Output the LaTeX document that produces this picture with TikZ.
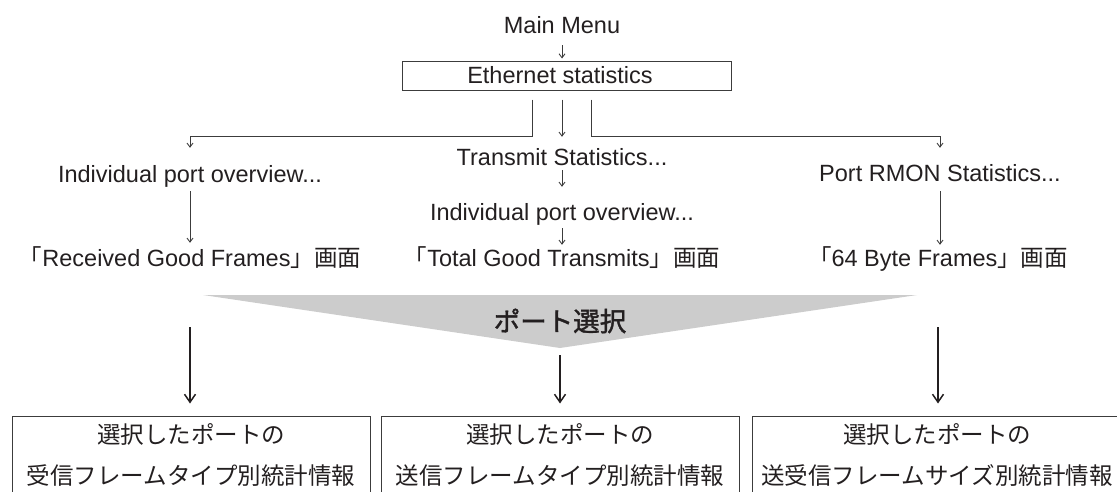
\documentclass[tikz,border=0pt]{standalone}
\usepackage{fontspec}
\setmainfont{Liberation Sans}
\newfontfamily\cjk{Noto Sans CJK JP}
\newfontfamily\cjkb[FakeBold=1.5]{Noto Sans CJK JP}
\usetikzlibrary{arrows.meta,calc}
\definecolor{ink}{RGB}{35,31,32}
\definecolor{linec}{RGB}{60,60,60}
\definecolor{graybg}{RGB}{204,204,204}
\begin{document}
\begin{tikzpicture}[x=1pt,y=-1pt,
  txt/.style={inner sep=0pt, text height=20pt, text depth=3pt, font=\fontsize{23.5}{26}\selectfont, text=ink},
  jtxt/.style={inner sep=0pt, text height=20pt, text depth=3pt, font=\cjk\fontsize{23.5}{26}\selectfont, text=ink},
  seltxt/.style={inner sep=0pt, font=\cjkb\fontsize{26.5}{30}\selectfont, text=ink},
  ethbox/.style={draw=linec, line width=1pt, minimum width=329pt, minimum height=29pt, inner sep=0pt, font=\fontsize{23.5}{26}\selectfont, text=ink},
  outbox/.style={draw=linec, line width=1pt, minimum height=100pt, inner sep=0pt},
  sarr/.style={draw=linec, line width=0.9pt, -{Straight Barb[length=4pt,width=6pt]}},
  barr/.style={draw=ink, line width=1.5pt, -{Straight Barb[length=8pt,width=11pt]}}
]
\useasboundingbox (0,0) rectangle (1117,491);
\clip (0,0) rectangle (1117,491);

% top part
\node[txt] (main) at (562,25) {Main Menu};
\node[ethbox] (eth) at (567,75.5) {\hspace*{-14pt}Ethernet statistics};
\draw[sarr] ([yshift=-8.5pt]main.south) -- ([yshift=2pt]main.south |- eth.north);

\node[txt] (ind1) at (190,174) {Individual port overview...};
\node[txt] (tx) at (562,157) {Transmit Statistics...};
\node[txt] (rmon) at (940,173) {Port RMON Statistics...};

\draw[sarr] ([xshift=-35pt,yshift=-9pt]eth.south) |- ([yshift=25.5pt]ind1.north) -- ([yshift=14.5pt]ind1.north);
\draw[sarr] ([xshift=-5pt,yshift=-9pt]eth.south) -- ([yshift=8.5pt]tx.north);
\draw[sarr] ([xshift=24pt,yshift=-9pt]eth.south) |- ([yshift=24.5pt]rmon.north) -- ([yshift=13.5pt]rmon.north);

\node[txt] (ind2) at (562,212) {Individual port overview...};
\node[txt] (rgf) at (190,258) {{\cjk 「}Received Good Frames{\cjk 」画面}};
\node[txt] (tgt) at (562,258) {{\cjk 「}Total Good Transmits{\cjk 」画面}};
\node[txt] (f64) at (938,258) {{\cjk 「}64 Byte Frames{\cjk 」画面}};

\draw[sarr] ([yshift=-5.5pt]ind1.south) -- ([yshift=3.5pt]ind1.south |- rgf.north);
\draw[sarr] ([yshift=-1.5pt]tx.south) -- ([yshift=13.5pt]ind2.north);
\draw[sarr] ([yshift=-4.5pt]ind2.south) -- ([yshift=1.5pt]ind2.south |- tgt.north);
\draw[sarr] ([yshift=-6.5pt]rmon.south) -- ([yshift=1.5pt]rmon.south |- f64.north);

% port selection
\fill[graybg] (203,295) -- (917,295) -- (560,348) -- cycle;
\node[seltxt] (sel) at (560,321) {ポート選択};
\coordinate (s1) at (190,327);
\coordinate (s2) at (560,355);
\coordinate (s3) at (938,327);

% output boxes
\node[outbox, minimum width=358pt] (b1) at (191,466) {};
\node[outbox, minimum width=358pt] (b2) at (560,466) {};
\node[outbox, minimum width=373pt] (b3) at (938.5,466) {};

\draw[barr] (s1) -- ([yshift=12pt]s1 |- b1.north);
\draw[barr] (s2) -- ([yshift=12pt]s2 |- b2.north);
\draw[barr] (s3) -- ([yshift=12pt]s3 |- b3.north);

\node[jtxt] (b1a) at (191,435) {選択したポートの};
\node[jtxt] (b1b) at (191,476) {受信フレームタイプ別統計情報};
\node[jtxt] (b2a) at (560,435) {選択したポートの};
\node[jtxt] (b2b) at (560,476) {送信フレームタイプ別統計情報};
\node[jtxt] (b3a) at (937,435) {選択したポートの};
\node[jtxt] (b3b) at (937,476) {送受信フレームサイズ別統計情報};
\end{tikzpicture}
\end{document}
